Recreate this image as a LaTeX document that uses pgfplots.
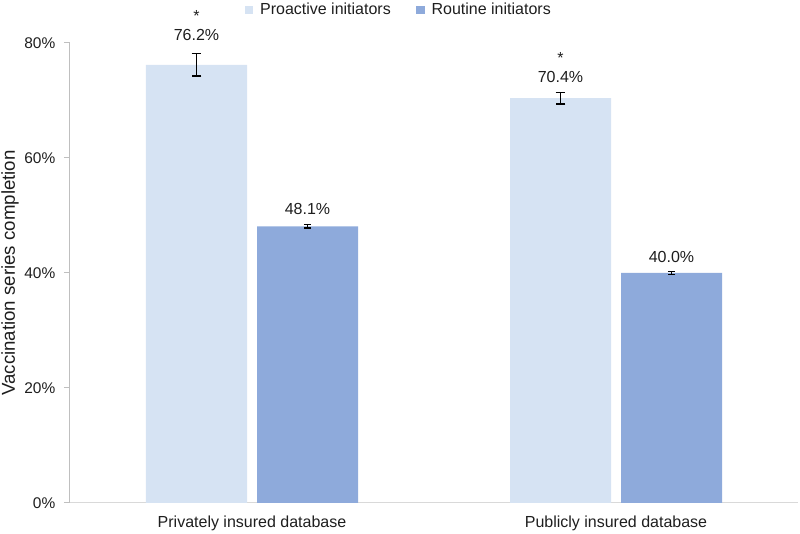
\documentclass[border=0pt]{standalone}
\usepackage{pgfplots}
\usepackage{pgfplotstable}
\usepackage{fontspec}
\setmainfont{Liberation Sans}
\pgfplotsset{compat=1.18}
\definecolor{proact}{RGB}{214,227,243}
\definecolor{routine}{RGB}{142,170,219}
\definecolor{axgray}{RGB}{191,191,191}
\definecolor{txt}{RGB}{30,30,30}

\pgfplotstableread{
x y err off
0 76.2 1.95 13
1 70.4 1.0 10
}\proactive
\pgfplotstableread{
x y err off
0 48.1 0.3 10
1 40.0 0.3 8
}\routinetab

\begin{document}
\begin{tikzpicture}
\path[use as bounding box] (-52.5pt,-23.25pt) rectangle (547.5pt,377.25pt);
\begin{axis}[
  anchor=south west,
  at={(0pt,0pt)},
  x=273pt, y=4.3125pt,
  xmin=-0.5, xmax=1.5, ymin=0, ymax=80,
  scale only axis,
  axis x line*=bottom, axis y line*=left,
  axis line style={axgray, line width=0.75pt},
  x axis line style={draw=black!15},
  ybar=7.5pt, bar width=75.75pt,
  xtick={0,1},
  xticklabels={Privately insured database,Publicly insured database},
  xtick style={draw=none},
  xticklabel style={font=\fontsize{12}{14}\selectfont, text=txt, yshift=-2pt},
  ytick={0,20,40,60,80},
  yticklabel={\pgfmathprintnumber{\tick}\%},
  ytick style={axgray, line width=0.75pt},
  tick align=outside,
  major tick length=4.5pt,
  yticklabel style={font=\fontsize{11.6}{14}\selectfont, text=txt, xshift=-3pt},
  /pgf/number format/assume math mode=true,
  ylabel={Vaccination series completion},
  every axis y label/.style={at={(axis description cs:-0.0824,0.5)}, rotate=90, anchor=center, font=\fontsize{14}{16}\selectfont, text=txt},
  legend columns=2,
  legend style={draw=none, fill=none, at={(axis description cs:0.452,1)}, anchor=center, yshift=24.75pt,
    font=\fontsize{12}{14}\selectfont, text=txt,
    /tikz/every odd column/.append style={column sep=3pt},
    /tikz/every even column/.append style={column sep=17pt}},
  legend image code/.code={\fill[#1] (0pt,-3.3pt) rectangle (6.6pt,3.3pt);},
  clip=false,
]
\addplot+[fill=proact, draw=none,
  nodes near coords={*\\[-1pt]\pgfmathprintnumber[fixed,fixed zerofill,precision=1]{\pgfplotspointmeta}\%},
  every node near coord/.append style={font=\fontsize{12}{15}\selectfont, text=txt, anchor=south, align=center, inner sep=0pt, yshift=\lblshift pt},
  error bars/.cd, y dir=both, y explicit,
  error bar style={black, line width=1.1pt},
  error mark options={black, rotate=90, mark size=3.6pt, line width=1.1pt}]
  table[x=x, y=y, y error=err,
    visualization depends on={\thisrow{err}*4.3125+\thisrow{off}*0.75 \as \lblshift}]
  {\proactive};
\addlegendentry{Proactive initiators}
\addplot+[fill=routine, draw=none,
  nodes near coords={\pgfmathprintnumber[fixed,fixed zerofill,precision=1]{\pgfplotspointmeta}\%},
  every node near coord/.append style={font=\fontsize{12}{15}\selectfont, text=txt, anchor=south, align=center, inner sep=0pt, yshift=\lblshift pt},
  error bars/.cd, y dir=both, y explicit,
  error bar style={black, line width=1.1pt},
  error mark options={black, rotate=90, mark size=2.8pt, line width=1.1pt}]
  table[x=x, y=y, y error=err,
    visualization depends on={\thisrow{err}*4.3125+\thisrow{off}*0.75 \as \lblshift}]
  {\routinetab};
\addlegendentry{Routine initiators}
\end{axis}
\end{tikzpicture}
\end{document}
